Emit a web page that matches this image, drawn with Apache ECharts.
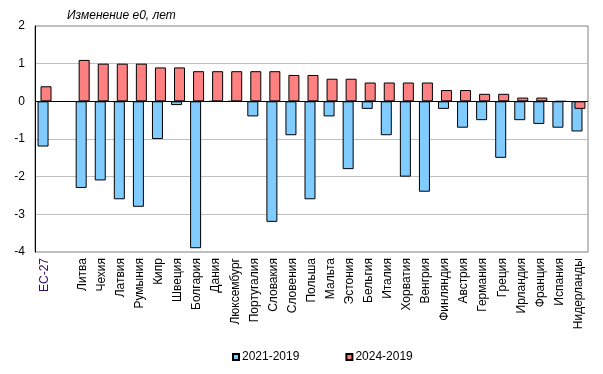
<!DOCTYPE html>
<html><head><meta charset="utf-8">
<script src="https://cdn.jsdelivr.net/npm/echarts@6/dist/echarts.min.js"></script>
<style>html,body{margin:0;padding:0;background:#fff}#c{width:603px;height:374px}</style>
</head><body><div id="c"></div>
<script>
const categories = ['ЕС-27','','Литва','Чехия','Латвия','Румыния','Кипр','Швеция','Болгария','Дания','Люксембург','Португалия','Словакия','Словения','Польша','Мальта','Эстония','Бельгия','Италия','Хорватия','Венгрия','Финляндия','Австрия','Германия','Греция','Ирландия','Франция','Испания','Нидерланды'];
const s2021 = [-1.2,null,-2.3,-2.1,-2.6,-2.8,-1.0,-0.1,-3.9,0,0,-0.4,-3.2,-0.9,-2.6,-0.4,-1.8,-0.2,-0.9,-2.0,-2.4,-0.2,-0.7,-0.5,-1.5,-0.5,-0.6,-0.7,-0.8];
const s2024 = [0.4,null,1.1,1.0,1.0,1.0,0.9,0.9,0.8,0.8,0.8,0.8,0.8,0.7,0.7,0.6,0.6,0.5,0.5,0.5,0.5,0.3,0.3,0.2,0.2,0.1,0.1,0.0,-0.2];
const seriesNames = ['2021-2019','2024-2019'];
const yTicks = {min:-4, max:2, interval:1};
const titleText = 'Изменение е0, лет';

const FONT = 'Arial, "Liberation Sans", sans-serif';
const chart = echarts.init(document.getElementById('c'), null, {renderer:'canvas'});
chart.setOption({
  animation:false,
  title:{text:titleText,left:62,top:5,textStyle:{fontStyle:'italic',fontWeight:'normal',fontSize:12,fontFamily:FONT,color:'#000'}},
  legend:{left:227,top:346,itemWidth:6,itemHeight:6,itemGap:46,icon:'rect',
    textStyle:{fontSize:12,fontFamily:FONT,color:'#000',padding:[0,0,0,-2]},
    data:seriesNames},
  grid:{left:35,right:15,top:26,bottom:122,show:true,borderColor:'#808080',borderWidth:1,backgroundColor:'#fff'},
  xAxis:{type:'category',data:categories,
    axisLine:{onZero:false,show:false},axisTick:{show:false},
    axisLabel:{interval:0,rotate:90,margin:6,fontSize:12,fontFamily:FONT,
      color:(v,i)=> (i===0?'#3a0a5e':'#000')}},
  yAxis:{type:'value',min:yTicks.min,max:yTicks.max,interval:yTicks.interval,
    axisLine:{show:true,lineStyle:{color:'#000',width:1}},axisTick:{show:false},
    axisLabel:{fontSize:12,fontFamily:FONT,color:'#000',margin:10},
    splitLine:{show:true,showMinLine:false,showMaxLine:false,lineStyle:{color:'#c0c0c0',width:1}}},
  series:[
    {name:seriesNames[0],type:'bar',data:s2021,barWidth:11,barGap:'-73%',
      itemStyle:{color:'#80ccff',borderColor:'#000',borderWidth:1},
      markLine:{silent:true,symbol:'none',label:{show:false},lineStyle:{color:'#000',width:1,type:'solid'},
        data:[{yAxis:0}],z:10}},
    {name:seriesNames[1],type:'bar',data:s2024,barWidth:11,barGap:'-73%',
      itemStyle:{color:'#ff8080',borderColor:'#000',borderWidth:1}}
  ]
});
</script></body></html>
